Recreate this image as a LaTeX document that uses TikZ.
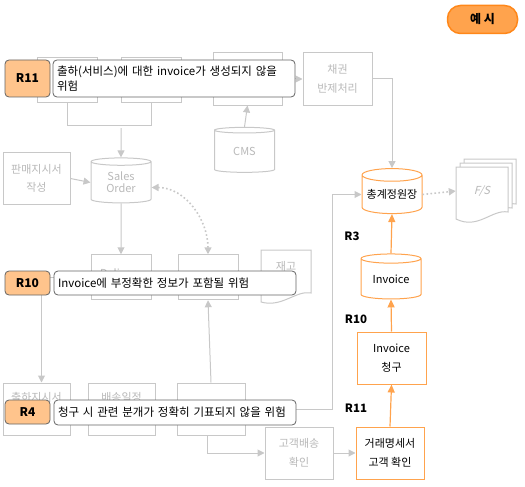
\documentclass[tikz,border=0pt]{standalone}
\usepackage{fontspec}
\setmainfont{Noto Sans CJK KR}
\newfontfamily\slantfont[FakeSlant=0.25]{Noto Sans CJK KR}
\definecolor{lineg}{RGB}{200, 200, 200}
\definecolor{textg}{RGB}{185, 185, 185}
\definecolor{risk}{RGB}{255, 163, 77}
\definecolor{tag}{RGB}{255, 196, 140}
\definecolor{edge}{RGB}{100, 100, 100}
\definecolor{badge}{RGB}{255, 163, 77}
\definecolor{badgeline}{RGB}{255, 135, 25}
\usetikzlibrary{shapes.geometric, arrows.meta, positioning, calc}
\tikzset{
  gbox/.style={draw=lineg, line width=1pt, fill=white, minimum width=68pt, minimum height=52pt,
    inner sep=0pt, align=center, text=textg, font=\fontsize{11}{18.5}\selectfont},
  obox/.style={gbox, draw=risk, text=black},
  gcyl/.style={cylinder, shape border rotate=90, aspect=0.25, draw=lineg, line width=1pt, fill=white,
    minimum width=60pt, minimum height=45pt, inner sep=0pt, align=center, text=textg,
    font=\fontsize{11}{12}\selectfont},
  ocyl/.style={gcyl, draw=risk, text=black},
  gtext/.style={text=textg, font=\fontsize{11}{12}\selectfont, inner sep=0pt},
  gline/.style={draw=lineg, line width=1pt},
  garrow/.style={gline, -{Triangle[length=7pt, width=7pt]}},
  oarrow/.style={draw=risk, line width=1.2pt, -{Triangle[length=8pt, width=7pt]}},
  gdots/.style={draw=lineg, line width=1.6pt, dash pattern=on 1.6pt off 2.4pt},
  rtag/.style={draw=edge, line width=0.8pt, fill=tag, rounded corners=4pt, minimum width=45pt,
    inner sep=0pt, font=\bfseries\fontsize{12}{12}\selectfont},
  rnote/.style={draw=edge, line width=0.8pt, fill=white, rounded corners=4pt, text width=234pt,
    inner xsep=4pt, inner ysep=0pt, align=left, font=\fontsize{11.5}{15}\selectfont},
  rmark/.style={font=\bfseries\fontsize{11.5}{12}\selectfont, inner sep=0pt}
}
\begin{document}
\begin{tikzpicture}[x=1pt, y=-1pt]
  \useasboundingbox (0,0) rectangle (525,487);
  \node[gcyl] (ordA) at (67.5,80) {};
  \node[gcyl] (ordB) at (151,80) {};
  \node[gbox, minimum width=69pt] (ship) at (247.5,79) {};
  \node[gbox, minimum width=69pt] (clear) at (337.5,79) {채권\\반제처리};
  \node[gcyl] (cms) at (244.5,151.5) {CMS};
  \node[gbox, minimum width=67pt] (slip) at (36.5,178.5) {판매지시서\\작성};
  \node[gcyl] (sales) at (121,182.5) {Sales\\Order};
  \node[gcyl] (deliv) at (121,277.5) {};
  \node[gtext] (delivt) at (121,274) {Delivery};
  \node[gcyl] (stock) at (208,277.5) {};
  \fill[white, draw=lineg, line width=1pt] (261,250) -- (311,250) -- (311,293)
    .. controls (296,290) and (282,308) .. (261,302) -- cycle;
  \node[gtext] (stockt) at (286,266) {재고};
  \node[gbox, minimum width=67pt] (order) at (36.5,409) {};
  \node[gtext] (ordert) at (36.5,397) {출하지시서};
  \node[gbox, minimum width=67pt] (plan) at (121.5,409) {};
  \node[gtext] (plant) at (121.5,397) {배송일정};
  \node[gbox] (bill) at (211,409) {};
  \node[gbox] (check) at (299,453) {고객배송\\확인};
  \foreach \s in {8,4,0}
    \fill[white, draw=lineg, line width=1pt] (456+\s,167-\s) -- (508+\s,167-\s) -- (508+\s,212-\s)
      .. controls (492+\s,209-\s) and (478+\s,230-\s) .. (456+\s,219-\s) -- cycle;
  \node[gtext, font=\slantfont\fontsize{11}{12}\selectfont, minimum width=52pt, minimum height=50pt] (fs) at (482,191) {F/S};
  \node[ocyl] (ledger) at (392,194.5) {총계정원장};
  \node[ocyl] (inv) at (391,279) {Invoice};
  \node[obox, minimum width=69pt] (claim) at (391.5,358) {Invoice\\청구};
  \node[obox] (stmt) at (390,453) {거래명세서\\고객 확인};

  \draw[gline] (ordA.south) -- ++(0,23) -| (ordB.south);
  \coordinate (join) at (121,128);
  \draw[garrow] (join) -- (sales.north);
  \draw[garrow] (ship.east) -- (clear.west);
  \draw[garrow] (cms.north) -- (ship.south);
  \draw[garrow] (clear.east) -| (ledger.north);
  \draw[garrow] (slip.east) -- (sales.west);
  \draw[garrow] (sales.south) -- (deliv.north);
  \draw[gdots, {Triangle[length=7pt, width=7pt]}-{Triangle[length=7pt, width=7pt]}]
    ([yshift=-5pt]sales.east) to[out=0, in=90] (stock.north);
  \draw[garrow] (deliv.west) -| ([xshift=5pt]order.north);
  \draw[garrow] (bill.north) -- (stock.south);
  \draw[garrow] ([xshift=-4pt]bill.south) |- (check.west);
  \draw[garrow] (bill.east) -- ++(87,0) |- (ledger.west);
  \draw[garrow] (check.east) -- (stmt.west);
  \draw[gdots, -{Triangle[length=7pt, width=7pt]}] (ledger.east) -- (fs.west);
  \draw[oarrow] (stmt.north) -- (claim.south);
  \draw[oarrow] (claim.north) -- (inv.south);
  \draw[oarrow] (inv.north) -- (ledger.south);

  \node[rmark] (m3) at (352,236) {R3};
  \node[rmark] (m10) at (356,319) {R10};
  \node[rmark] (m11) at (356,408) {R11};

  \node[rtag, minimum height=37pt] (t11) at (27.5,78.5) {R11};
  \node[rnote, minimum height=37pt] (n11) at (174,78.5) {출하(서비스)에 대한 invoice가 생성되지 않을\\위험};
  \node[rtag, minimum height=24pt] (t10) at (27.5,283) {R10};
  \node[rnote, minimum height=24pt] (n10) at (175,283) {Invoice에 부정확한 정보가 포함될 위험};
  \node[rtag, minimum height=24pt] (t4) at (27.5,412) {R4};
  \node[rnote, minimum height=25pt] (n4) at (175,412.5) {청구 시 관련 분개가 정확히 기표되지 않을 위험};

  \node[draw=badgeline, line width=1.5pt, fill=badge, rounded corners=13pt, minimum width=70pt,
    minimum height=28pt, inner sep=0pt, font=\bfseries\fontsize{12}{12}\selectfont] (demo) at (482.5,19.5) {예 시};
\end{tikzpicture}
\end{document}
